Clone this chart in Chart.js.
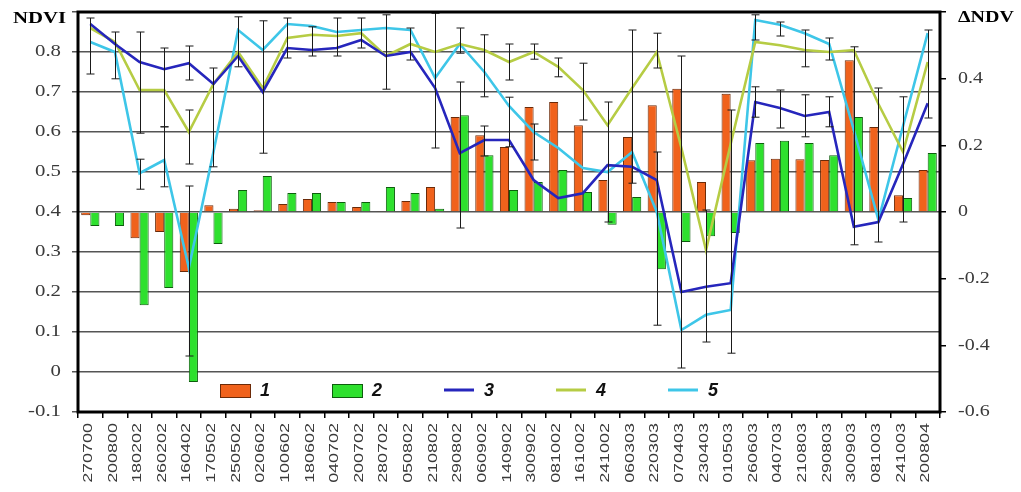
<!DOCTYPE html>
<html>
<head>
<meta charset="utf-8">
<script src="https://cdn.jsdelivr.net/npm/chart.js@4"></script>
<style>
  html, body { margin: 0; padding: 0; background: #fff; }
  canvas { display: block; }
</style>
</head>
<body>
<canvas id="ndviChart" width="1021" height="492"></canvas>
<script>
const categories = [
  '270700', '200800', '180202', '260202', '160402', '170502', '250502', '020602', '100602',
  '180602', '040702', '200702', '280702', '050802', '210802', '290802', '060902', '140902',
  '300902', '081002', '161002', '241002', '060303', '220303', '070403', '230403', '010503',
  '260603', '040703', '210803', '290803', '300903', '081003', '241003', '200804',
]

// bars, right axis (ΔNDV)
const delta1 = [
  -0.01, 0, -0.079, -0.06, -0.18, 0.02, 0.01, 0.005, 0.024,
  0.039, 0.03, 0.015, 0.003, 0.033, 0.075, 0.285, 0.23, 0.195,
  0.315, 0.33, 0.26, 0.096, 0.225, 0.32, 0.37, 0.09, 0.355,
  0.155, 0.16, 0.158, 0.156, 0.455, 0.255, 0.05, 0.126,
]
const delta2 = [
  -0.042, -0.042, -0.28, -0.228, -0.51, -0.096, 0.066, 0.108, 0.057,
  0.057, 0.03, 0.03, 0.075, 0.057, 0.01, 0.29, 0.17, 0.066,
  0.09, 0.126, 0.06, -0.038, 0.045, -0.172, -0.09, -0.073, -0.063,
  0.207, 0.214, 0.207, 0.17, 0.285, 0, 0.042, 0.177,
]

// lines, left axis (NDVI)
const ndvi3 = [
  0.87, 0.82, 0.775, 0.757, 0.772, 0.72, 0.79, 0.70, 0.81,
  0.805, 0.81, 0.83, 0.79, 0.80, 0.71, 0.547, 0.58, 0.58,
  0.48, 0.435, 0.447, 0.517, 0.513, 0.48, 0.20, 0.213, 0.222,
  0.675, 0.66, 0.64, 0.65, 0.363, 0.375, 0.52, 0.672,
]
const ndvi4 = [
  0.86, 0.825, 0.705, 0.705, 0.60, 0.72, 0.80, 0.71, 0.835,
  0.843, 0.84, 0.847, 0.79, 0.82, 0.80, 0.82, 0.805, 0.775,
  0.80, 0.763, 0.705, 0.617, 0.71, 0.80, 0.56, 0.305, 0.57,
  0.825, 0.817, 0.805, 0.80, 0.805, 0.67, 0.55, 0.775,
]
const ndvi5 = [
  0.825, 0.80, 0.497, 0.53, 0.26, 0.55, 0.855, 0.805, 0.87,
  0.865, 0.85, 0.855, 0.86, 0.855, 0.735, 0.82, 0.75, 0.665,
  0.60, 0.56, 0.51, 0.50, 0.55, 0.40, 0.105, 0.143, 0.155,
  0.88, 0.868, 0.847, 0.82, 0.605, 0.38, 0.615, 0.847,
]

// [category index, low, high] in NDVI units
const errorBars = [
  [0, 0.745, 0.885], [1, 0.733, 0.85], [2, 0.597, 0.85], [2, 0.457, 0.532],
  [3, 0.613, 0.81], [3, 0.463, 0.613], [4, 0.73, 0.815], [4, 0.52, 0.655],
  [4, 0.04, 0.465], [5, 0.513, 0.76], [6, 0.763, 0.888], [7, 0.547, 0.878],
  [8, 0.785, 0.885], [9, 0.79, 0.863], [10, 0.79, 0.885], [11, 0.81, 0.885],
  [12, 0.707, 0.893], [13, 0.78, 0.86], [14, 0.56, 0.897], [15, 0.797, 0.86],
  [15, 0.36, 0.725], [16, 0.688, 0.843], [16, 0.54, 0.615], [17, 0.73, 0.82],
  [17, 0.563, 0.687], [18, 0.782, 0.82], [18, 0.53, 0.62], [19, 0.738, 0.785],
  [20, 0.63, 0.772], [21, 0.375, 0.675], [22, 0.472, 0.855], [23, 0.76, 0.847],
  [23, 0.117, 0.55], [24, 0.01, 0.79], [25, 0.075, 0.405], [26, 0.047, 0.655],
  [27, 0.83, 0.893], [27, 0.637, 0.713], [28, 0.84, 0.875], [28, 0.61, 0.705],
  [29, 0.763, 0.855], [29, 0.588, 0.693], [30, 0.78, 0.835], [30, 0.613, 0.688],
  [31, 0.318, 0.813], [32, 0.325, 0.71], [33, 0.375, 0.688], [34, 0.635, 0.855],
]

const seriesNames = ['1', '2', '3', '4', '5']
const ndviTicks = ['-0.1', '0', '0.1', '0.2', '0.3', '0.4', '0.5', '0.6', '0.7', '0.8']
const deltaTicks = ['-0.6', '-0.4', '-0.2', '0', '0.2', '0.4']

const TEXT = '#3a3a3a'

// draws error bars, the frame, tick labels and the in-plot legend
const extras = {
  id: 'extras',
  afterDatasetsDraw(chart) {
    const { ctx, chartArea: a, scales } = chart
    const x = scales.x
    const y = scales.y
    ctx.save()
    ctx.strokeStyle = '#1a1a1a'
    ctx.lineWidth = 1
    for (const [i, lo, hi] of errorBars) {
      const px = Math.round(x.getPixelForValue(i)) + 0.5
      const top = y.getPixelForValue(hi)
      const bot = y.getPixelForValue(lo)
      ctx.beginPath()
      ctx.moveTo(px, top); ctx.lineTo(px, bot)
      ctx.moveTo(px - 4, top); ctx.lineTo(px + 4, top)
      ctx.moveTo(px - 4, bot); ctx.lineTo(px + 4, bot)
      ctx.stroke()
    }
    ctx.strokeStyle = '#000'
    ctx.lineWidth = 3
    ctx.strokeRect(a.left, a.top, a.right - a.left, a.bottom - a.top)
    ctx.restore()
  },
  afterDraw(chart) {
    const { ctx, chartArea: a, scales } = chart
    const x = scales.x
    const yL = scales.y
    const yR = scales.y1

    ctx.save()
    ctx.fillStyle = TEXT
    ctx.textBaseline = 'middle'
    ctx.font = '16px "Liberation Serif", "Times New Roman", serif'

    for (const t of ndviTicks) {
      ctx.save()
      ctx.translate(a.left - 17, yL.getPixelForValue(parseFloat(t)))
      ctx.scale(1.3, 1)
      ctx.textAlign = 'right'
      ctx.fillText(t, 0, 0)
      ctx.restore()
    }
    for (const t of deltaTicks) {
      ctx.save()
      ctx.translate(a.right + 18, yR.getPixelForValue(parseFloat(t)))
      ctx.scale(1.25, 1)
      ctx.textAlign = 'left'
      ctx.fillText(t, 0, 0)
      ctx.restore()
    }

    // axis titles
    ctx.fillStyle = '#000'
    ctx.font = 'bold 16px "Liberation Serif", "Times New Roman", serif'
    ctx.save()
    ctx.translate(13, a.top + 7)
    ctx.scale(1.3, 1)
    ctx.textAlign = 'left'
    ctx.fillText('NDVI', 0, 0)
    ctx.restore()
    ctx.save()
    ctx.translate(a.right + 18, a.top + 6)
    ctx.scale(1.25, 1)
    ctx.textAlign = 'left'
    ctx.fillText('\u0394NDV', 0, 0)
    ctx.restore()

    // category labels, rotated
    ctx.fillStyle = TEXT
    ctx.font = '13px "Liberation Sans", Arial, sans-serif'
    categories.forEach((label, i) => {
      ctx.save()
      ctx.translate(x.getPixelForValue(i) - 2, a.bottom + 11)
      ctx.rotate(-Math.PI / 2)
      ctx.scale(1.38, 1)
      ctx.textAlign = 'right'
      ctx.fillText(label, 0, 0)
      ctx.restore()
    })

    // legend inside plot
    const ly = yL.getPixelForValue(-0.1) - 22
    ctx.font = 'bold italic 18px "Liberation Sans", Arial, sans-serif'
    ctx.textAlign = 'left'
    chart.data.datasets.forEach((ds, i) => {
      const lx = 220 + i * 112
      if (ds.type === 'bar') {
        ctx.fillStyle = ds.backgroundColor
        ctx.fillRect(lx, ly - 6, 30, 13)
        ctx.strokeStyle = ds.borderColor
        ctx.lineWidth = 1
        ctx.strokeRect(lx + 0.5, ly - 5.5, 30, 13)
      } else {
        ctx.strokeStyle = ds.borderColor
        ctx.lineWidth = 3
        ctx.beginPath()
        ctx.moveTo(lx, ly)
        ctx.lineTo(lx + 30, ly)
        ctx.stroke()
      }
      ctx.fillStyle = '#111'
      ctx.fillText(ds.label, lx + 40, ly + 1)
    })
    ctx.restore()
  },
}

const barCommon = {
  type: 'bar',
  yAxisID: 'y1',
  borderWidth: 1,
  categoryPercentage: 0.74,
  barPercentage: 1,
  order: 2,
}
const lineCommon = {
  type: 'line',
  yAxisID: 'y',
  borderWidth: 2.6,
  pointRadius: 0,
  tension: 0,
  fill: false,
  order: 1,
}

new Chart(document.getElementById('ndviChart'), {
  type: 'bar',
  data: {
    labels: categories,
    datasets: [
      { ...barCommon, label: seriesNames[0], data: delta1, backgroundColor: '#F0621C', borderColor: '#6b2a08' },
      { ...barCommon, label: seriesNames[1], data: delta2, backgroundColor: '#2EE02E', borderColor: '#0d5e0d' },
      { ...lineCommon, label: seriesNames[2], data: ndvi3, borderColor: '#2626BC' },
      { ...lineCommon, label: seriesNames[3], data: ndvi4, borderColor: '#B6CC44' },
      { ...lineCommon, label: seriesNames[4], data: ndvi5, borderColor: '#3EC6E8' },
    ],
  },
  options: {
    responsive: false,
    animation: false,
    devicePixelRatio: 1,
    layout: { padding: { top: 12, left: 0, right: 0, bottom: 0 } },
    plugins: {
      legend: { display: false },
      tooltip: { enabled: false },
    },
    scales: {
      x: {
        offset: true,
        border: { display: false },
        grid: { offset: true, drawOnChartArea: false, drawTicks: true, tickLength: 6, color: '#000', lineWidth: 1.5 },
        ticks: { display: false },
        afterFit: s => { s.height = 80 },
      },
      y: {
        position: 'left',
        min: -0.1,
        max: 0.9,
        border: { display: false },
        grid: { color: '#555', lineWidth: 1.5, tickLength: 6 },
        ticks: { display: false, stepSize: 0.1 },
        afterFit: s => { s.width = 78 },
      },
      y1: {
        position: 'right',
        min: -0.6,
        max: 0.6,
        border: { display: false },
        grid: { drawOnChartArea: false, tickLength: 6, color: '#000', lineWidth: 1.5 },
        ticks: { display: false, stepSize: 0.2 },
        afterFit: s => { s.width = 81 },
      },
    },
  },
  plugins: [extras],
})
</script>
</body>
</html>
